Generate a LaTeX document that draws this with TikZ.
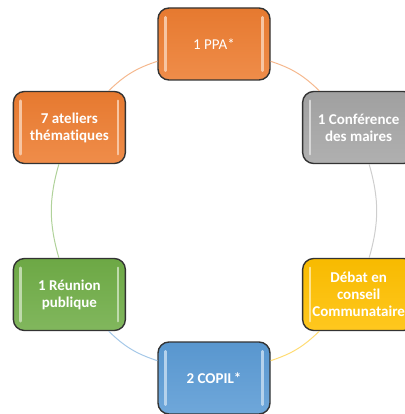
\documentclass[tikz,border=0pt]{standalone}
\usepackage{fontspec}
\setmainfont{Carlito}[Ligatures=NoCommon]
\definecolor{cOrange}{HTML}{ED7D31}
\definecolor{cGray}{HTML}{A5A5A5}
\definecolor{cYellow}{HTML}{FFC000}
\definecolor{cBlue}{HTML}{5B9BD5}
\definecolor{cGreen}{HTML}{70AD47}
\begin{document}
\begin{tikzpicture}[
			x=1pt, y=1pt,
			main/.style = {draw=black!80, line width=1.4pt, rounded corners=11pt,
				minimum width=112pt, minimum height=72pt, align=center,
				text=white, font=\fontsize{15}{17}\selectfont\bfseries,
				top color=#1!97!black, bottom color=#1!88!white},
			link/.style = {#1!55!white, line width=1pt},
			glow/.style = {line width=2.6pt, line cap=round, draw=white!55!#1}
		]
		\useasboundingbox (-214,-203) rectangle (190,211);
		% Top half.
		\node[main=cOrange, font=\fontsize{15}{17}\selectfont] (ppa) at (90:167pt) {1 PPA*};
		\node[main=cGray] (conf) at (30:167pt) {1 Conférence\\des maires};
		\node[main=cOrange] (atel) at (150:167pt) {7 ateliers\\thématiques};
		% Bottom half.
		\node[main=cYellow] (deb) at (-30:167pt) {Débat en\\conseil\\Communataire};
		\node[main=cBlue] (copil) at (-90:167pt) {2 COPIL*};
		\node[main=cGreen] (reun) at (-150:167pt) {1 Réunion\\publique};
		
		% Highlights.
		\foreach \n/\c in {ppa/cOrange, conf/cGray, atel/cOrange, deb/cYellow, copil/cBlue, reun/cGreen} {
			\draw[glow=\c] ([xshift=8pt, yshift=-10pt]\n.north west) -- ([xshift=8pt, yshift=10pt]\n.south west);
			\draw[glow=\c] ([xshift=-8pt, yshift=-10pt]\n.north east) -- ([xshift=-8pt, yshift=10pt]\n.south east);
		}
		
		\draw[link=cOrange] (ppa) to[bend left=13] (conf);
		\draw[link=cGray] (conf) to[bend left=16] (deb);
		\draw[link=cYellow] (deb) to[bend left=13] (copil);
		\draw[link=cBlue] (copil) to[bend left=13] (reun);
		\draw[link=cGreen] (reun) to[bend left=16] (atel);
		\draw[link=cOrange] (atel) to[bend left=13] (ppa);
	\end{tikzpicture}
\end{document}
